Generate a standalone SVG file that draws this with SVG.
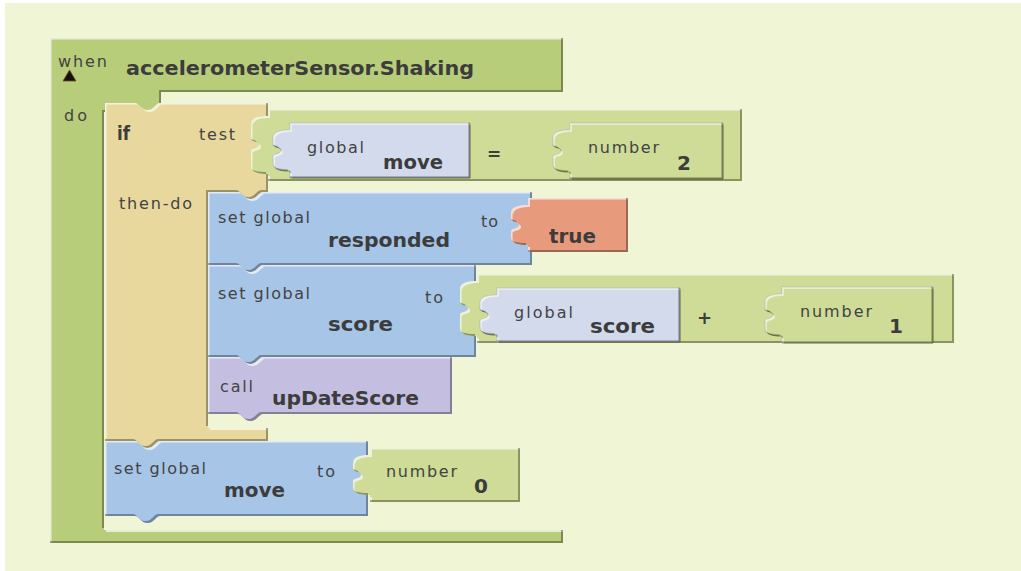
<svg xmlns="http://www.w3.org/2000/svg" width="1021" height="571" viewBox="0 0 1021 571">
  <defs>
    <!-- raised bevel: light band on top/left edges, dark band on bottom/right edges -->
    <filter id="bevel" x="-5%" y="-10%" width="110%" height="120%">
      <feOffset in="SourceAlpha" dx="1.5" dy="1.5" result="shiftDown"/>
      <feComposite in="SourceAlpha" in2="shiftDown" operator="out" result="hiBand"/>
      <feFlood flood-color="#ffffff" flood-opacity="0.6"/>
      <feComposite in2="hiBand" operator="in" result="hi"/>
      <feOffset in="SourceAlpha" dx="-2" dy="-2" result="shiftUp"/>
      <feComposite in="SourceAlpha" in2="shiftUp" operator="out" result="shBand"/>
      <feFlood flood-color="#1e2410" flood-opacity="0.6"/>
      <feComposite in2="shBand" operator="in" result="sh"/>
      <feMerge>
        <feMergeNode in="SourceGraphic"/>
        <feMergeNode in="hi"/>
        <feMergeNode in="sh"/>
      </feMerge>
    </filter>
    <style>
      .blk { filter: url(#bevel); stroke-linejoin: round; }
      .nested { stroke: #4f5a33; stroke-opacity: 0.55; stroke-width: 1; }
      .event { fill: #b8cd7a; }
      .ctrl { fill: #e8d89e; }
      .setter { fill: #a6c5e7; }
      .proc { fill: #c4bee0; }
      .getter { fill: #d2daec; }
      .math { fill: #cedc97; }
      .logic { fill: #e89b7b; }
      text { font-family: "DejaVu Sans", "Liberation Sans", sans-serif; }
      .lbl { font-size: 16px; fill: #434343; }
      .name { font-size: 20px; font-weight: bold; fill: #3c3c3c; }
    </style>
  </defs>

  <!-- canvas -->
  <rect x="0" y="0" width="1021" height="571" fill="#ffffff"/>
  <rect x="5" y="3" width="1016" height="568" fill="#eff5d5"/>

  <!-- event handler -->
  <g id="when-shaking">
    <path class="blk event" d="M50,38 H563 V92 H161 V112 H104 V530 H563 V543 H50 Z"/>
    <text class="lbl" x="58" y="67" font-size="15" textLength="49" lengthAdjust="spacing">when</text>
    <polygon points="63,81 76,81 69.5,70" fill="#111111" stroke="#7a4a20" stroke-width="0.8"/>
    <text class="name" x="126" y="75" textLength="348" lengthAdjust="spacingAndGlyphs">accelerometerSensor.Shaking</text>
    <text class="lbl" x="64" y="121" textLength="23" lengthAdjust="spacing">do</text>
  </g>

  <!-- if / then-do -->
  <g id="if-block">
    <path class="blk ctrl" d="M105,103 H135 C139,103 141,110 147.5,110 C154,110 156,103 160,103 H268 V192 H263 C259,192 257,199 250.5,199 C244,199 242,192 238,192 H208 V428 H268 V441 H160 C156,441 154,448 147.5,448 C141,448 139,441 135,441 H105 Z"/>
    <text class="name" x="117" y="140" textLength="13" lengthAdjust="spacingAndGlyphs">if</text>
    <text class="lbl" x="199" y="140" textLength="36" lengthAdjust="spacing">test</text>
    <text class="lbl" x="119" y="209" textLength="73" lengthAdjust="spacing">then-do</text>
  </g>

  <!-- set global responded -->
  <g id="set-responded">
    <path class="blk setter" d="M208,192 H238 C242,192 244,199 250.5,199 C257,199 259,192 263,192 H532 V265 H263 C259,265 257,272 250.5,272 C244,272 242,265 238,265 H208 Z"/>
    <text class="lbl" x="218" y="223" textLength="92" lengthAdjust="spacing">set global</text>
    <text class="name" x="328" y="247" textLength="122" lengthAdjust="spacingAndGlyphs">responded</text>
    <text class="lbl" x="481" y="227" textLength="17" lengthAdjust="spacing">to</text>
  </g>

  <!-- set global score -->
  <g id="set-score">
    <path class="blk setter" d="M208,265 H238 C242,265 244,272 250.5,272 C257,272 259,265 263,265 H476 V357 H263 C259,357 257,364 250.5,364 C244,364 242,357 238,357 H208 Z"/>
    <text class="lbl" x="218" y="299" textLength="92" lengthAdjust="spacing">set global</text>
    <text class="name" x="328" y="331" textLength="65" lengthAdjust="spacingAndGlyphs">score</text>
    <text class="lbl" x="425" y="303" textLength="18" lengthAdjust="spacing">to</text>
  </g>

  <!-- call upDateScore -->
  <g id="call-update">
    <path class="blk proc" d="M208,357 H238 C242,357 244,364 250.5,364 C257,364 259,357 263,357 H452 V414 H263 C259,414 257,421 250.5,421 C244,421 242,414 238,414 H208 Z"/>
    <text class="lbl" x="220" y="392" textLength="33" lengthAdjust="spacing">call</text>
    <text class="name" x="272" y="405" textLength="147" lengthAdjust="spacingAndGlyphs">upDateScore</text>
  </g>

  <!-- set global move -->
  <g id="set-move">
    <path class="blk setter" d="M105,441 H135 C139,441 141,448 147.5,448 C154,448 156,441 160,441 H368 V516 H160 C156,516 154,523 147.5,523 C141,523 139,516 135,516 H105 Z"/>
    <text class="lbl" x="114" y="474" textLength="92" lengthAdjust="spacing">set global</text>
    <text class="name" x="224" y="497" textLength="61" lengthAdjust="spacingAndGlyphs">move</text>
    <text class="lbl" x="317" y="477" textLength="18" lengthAdjust="spacing">to</text>
  </g>

  <!-- test: move = 2 -->
  <g id="compare-equal">
    <path class="blk math" d="M268,109 H742 V181 H268 V174 C260,174 251,173 251,166 V151 C251,148 259,149 259,145 C259,141 251,142 251,139 V124 C251,117 260,116 268,116 Z"/>
    <text x="487" y="160" font-size="17" font-weight="bold" fill="#3c3c3c">=</text>
  </g>
  <g id="get-move">
    <path class="blk getter nested" d="M290,123 H470 V178 H290 V171 C282,171 273,170 273,163 V156.5 C273,153.5 281,154.5 281,150.5 C281,146.5 273,147.5 273,144.5 V138 C273,131 282,130 290,130 Z"/>
    <text class="lbl" x="307" y="153" textLength="57" lengthAdjust="spacing">global</text>
    <text class="name" x="383" y="169" textLength="60" lengthAdjust="spacingAndGlyphs">move</text>
  </g>
  <g id="number-2">
    <path class="blk math nested" d="M570,123 H723 V179 H570 V172 C562,172 553,171 553,164 V157 C553,154 561,155 561,151 C561,147 553,148 553,145 V138 C553,131 562,130 570,130 Z"/>
    <text class="lbl" x="588" y="153" textLength="71" lengthAdjust="spacing">number</text>
    <text class="name" x="677" y="170">2</text>
  </g>

  <!-- value: true -->
  <g id="bool-true">
    <path class="blk logic" d="M528,198 H628 V252 H528 V245 C520,245 511,244 511,237 V231 C511,228 519,229 519,225 C519,221 511,222 511,219 V213 C511,206 520,205 528,205 Z"/>
    <text class="name" x="549" y="243" textLength="47" lengthAdjust="spacingAndGlyphs">true</text>
  </g>

  <!-- value: score + 1 -->
  <g id="add-plus">
    <path class="blk math" d="M477,274 H954 V343 H477 V336 C469,336 460,335 460,328 V314.5 C460,311.5 468,312.5 468,308.5 C468,304.5 460,305.5 460,302.5 V289 C460,282 469,281 477,281 Z"/>
    <text x="697" y="324" font-size="18" font-weight="bold" fill="#3c3c3c">+</text>
  </g>
  <g id="get-score">
    <path class="blk getter nested" d="M497,288 H680 V342 H497 V335 C489,335 480,334 480,327 V321 C480,318 488,319 488,315 C488,311 480,312 480,309 V303 C480,296 489,295 497,295 Z"/>
    <text class="lbl" x="514" y="318" textLength="59" lengthAdjust="spacing">global</text>
    <text class="name" x="590" y="333" textLength="65" lengthAdjust="spacingAndGlyphs">score</text>
  </g>
  <g id="number-1">
    <path class="blk math nested" d="M782,287 H933 V343 H782 V336 C774,336 765,335 765,328 V321 C765,318 773,319 773,315 C773,311 765,312 765,309 V302 C765,295 774,294 782,294 Z"/>
    <text class="lbl" x="800" y="317" textLength="72" lengthAdjust="spacing">number</text>
    <text class="name" x="889" y="333">1</text>
  </g>

  <!-- value: 0 -->
  <g id="number-0">
    <path class="blk math" d="M370,448 H520 V502 H370 V495 C362,495 353,494 353,487 V481 C353,478 361,479 361,475 C361,471 353,472 353,469 V463 C353,456 362,455 370,455 Z"/>
    <text class="lbl" x="386" y="477" textLength="71" lengthAdjust="spacing">number</text>
    <text class="name" x="474" y="493">0</text>
  </g>
</svg>
